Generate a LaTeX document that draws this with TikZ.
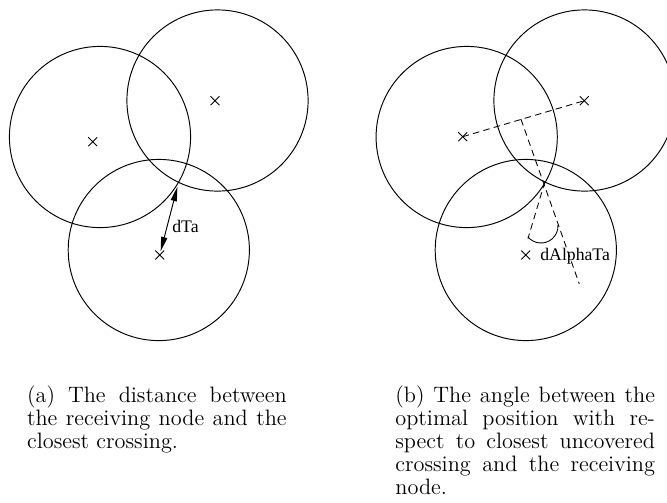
\documentclass[tikz,border=0pt]{standalone}
\usepackage{fontspec}
\newfontfamily\figfont{Liberation Serif}
\usetikzlibrary{arrows.meta,shapes.misc}
\begin{document}
\begin{tikzpicture}[x=0.52pt,y=0.52pt,
  ring/.style={draw,line width=0.5pt},
  crossmark/.style={draw,cross out,inner sep=0pt,minimum size=4.2pt,line width=0.45pt},
  dashline/.style={line width=0.45pt,dash pattern=on 3.4pt off 2.2pt},
  lbl/.style={inner sep=0pt,anchor=base west,font=\figfont\fontsize{9.2}{11}\selectfont},
  captext/.style={anchor=north west,inner sep=0pt,text width=135pt,align=justify,font=\fontsize{11.6}{12}\selectfont},
  dist/.style={line width=0.5pt,{Triangle[length=7.5pt,width=3.2pt]}-{Triangle[length=7.5pt,width=3.2pt]}}]
\useasboundingbox (0,0) rectangle (667,-502);
\clip (0,0) rectangle (667,-502);

% ---- left panel (a)
\draw[ring] (100,-137) circle[radius=90.6];
\draw[ring] (217.5,-100.5) circle[radius=90.6];
\draw[ring] (158.8,-250) circle[radius=90.6];
\node[crossmark] (lA) at (92.7,-141.7) {};
\node[crossmark] (lB) at (215,-100.7) {};
\node[crossmark] (lC) at (159.7,-255) {};
\coordinate (lX) at (178.5,-182.5);
\draw[dist,shorten <=2.3pt,shorten >=2pt] (lX) -- (lC.center);
\node[lbl] (dta) at (172,-232.3) {dTa};

% ---- right panel (b)
\draw[ring] (466.7,-137) circle[radius=90.6];
\draw[ring] (584.5,-100.5) circle[radius=90.6];
\draw[ring] (525.8,-250) circle[radius=90.6];
\node[crossmark] (rA) at (462.7,-136.7) {};
\node[crossmark] (rB) at (584.3,-100.7) {};
\node[crossmark] (rC) at (525.7,-255) {};
\coordinate (rF) at (521,-119.3);
\coordinate (rE) at (579.3,-284);
\coordinate (rX) at (544.8,-182);
\coordinate (rL) at (528,-238.5);
\draw[dashline] (rA.center) -- (rB.center);
\draw[dashline] (rF) -- (rE);
\draw[dashline] (rX) -- (rL);
\draw[line width=0.45pt] ([shift={(219.5:17)}]541,-226) arc[start angle=219.5,end angle=363.3,radius=17];
\node[lbl] (dalpha) at (540,-260) {dAlphaTa};

% ---- captions
\node[captext] (capa) at (26.7,-385) {(a) The distance between\linebreak the receiving node and the\linebreak closest crossing.};
\node[captext] (capb) at (395,-385) {(b) The angle between the\linebreak optimal position with re-\linebreak spect to closest uncovered\linebreak crossing and the receiving\linebreak node.};
\end{tikzpicture}
\end{document}
